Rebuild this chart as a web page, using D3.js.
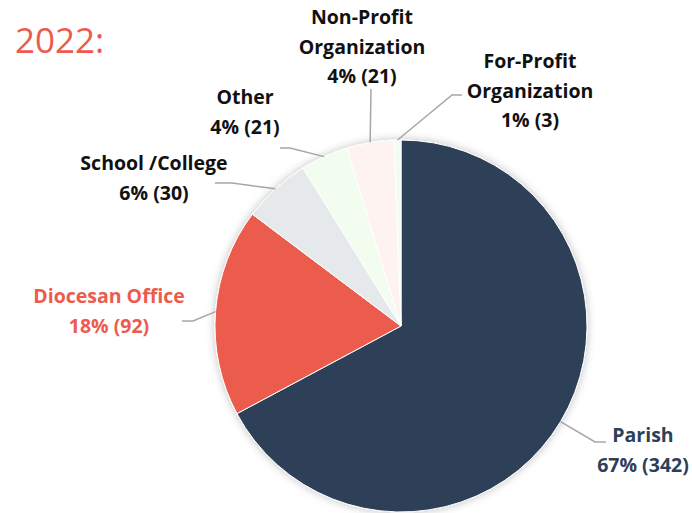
<!DOCTYPE html>
<html><head><meta charset="utf-8">
<script src="https://cdn.jsdelivr.net/npm/d3@7/dist/d3.min.js"></script>
<style>body{margin:0;background:#fff}svg{display:block}</style>
</head><body>
<svg id="c" width="692" height="513"></svg>
<script>
const categories = ["Parish","Diocesan Office","School /College","Other","Non-Profit Organization","For-Profit Organization"];
const values = [342, 92, 30, 21, 21, 3];
const percentLabels = ["67%","18%","6%","4%","4%","1%"];
const labelLines = [["Parish"],["Diocesan Office"],["School /College"],["Other"],["Non-Profit","Organization"],["For-Profit","Organization"]];
const colors = ["#2D4059","#EC5B4E","#E6E9EC","#F2FCEF","#FEF3F1","#F2FCEF"];
const labelColors = ["#2D4059","#EC5B4E","#111","#111","#111","#111"];
const title = "2022:";

// layout (positions only)
const cx = 401, cy = 326, R = 186;
const labelPos = [
  {x:643, y:442, elbow:[595,442], end:[606,442]},
  {x:109, y:303, elbow:[193,321], end:[182,321]},
  {x:154, y:170, elbow:[232,183], end:[215,183]},
  {x:245, y:104, elbow:[290,148], end:[280,148]},
  {x:362, y:24,  elbow:[371,89],  end:[371,89]},
  {x:530, y:68,  elbow:[452,95],  end:[462,95]}
];
const lineH = 29.5;
const labelFont = "'Open Sans', 'Noto Sans', sans-serif";

const svg = d3.select("#c");
const defs = svg.append("defs");
const f = defs.append("filter").attr("id","sh").attr("x","-20%").attr("y","-20%").attr("width","140%").attr("height","140%");
f.append("feDropShadow").attr("dx",0).attr("dy",0).attr("stdDeviation",4).attr("flood-color","#000").attr("flood-opacity",0.25);

svg.append("text").attr("x",15).attr("y",53).text(title)
  .attr("font-family","'Open Sans', sans-serif").attr("font-size",35).attr("fill","#EC5B4E");

const data = categories.map((c,i)=>({c, v:values[i], i}));
const pie = d3.pie().value(d=>d.v).sort(null).startAngle(0).endAngle(2*Math.PI);
const arcs = pie(data);
const arc = d3.arc().innerRadius(0).outerRadius(R);

const g = svg.append("g").attr("transform",`translate(${cx},${cy})`);
g.append("g").attr("filter","url(#sh)").selectAll("path").data(arcs).join("path")
  .attr("d",arc).attr("fill",d=>colors[d.data.i]).attr("stroke","#fff").attr("stroke-width",1);

// leaders
arcs.forEach((a,i)=>{
  const m = (a.startAngle+a.endAngle)/2;
  const sx = cx + Math.sin(m)*R, sy = cy - Math.cos(m)*R;
  const p = labelPos[i];
  svg.append("path").attr("d", d3.line()([[sx,sy],p.elbow,p.end]))
    .attr("fill","none").attr("stroke","#A6A6A6").attr("stroke-width",1.5);
  const t = svg.append("text").attr("text-anchor","middle")
    .attr("font-family",labelFont).attr("font-weight","bold")
    .attr("font-size",19.5).attr("fill",labelColors[i]);
  const lines = labelLines[i].concat([`${percentLabels[i]} (${values[i]})`]);
  lines.forEach((l,k)=>t.append("tspan").attr("x",p.x).attr("y",p.y+k*lineH).text(l));
});
</script>
</body></html>
